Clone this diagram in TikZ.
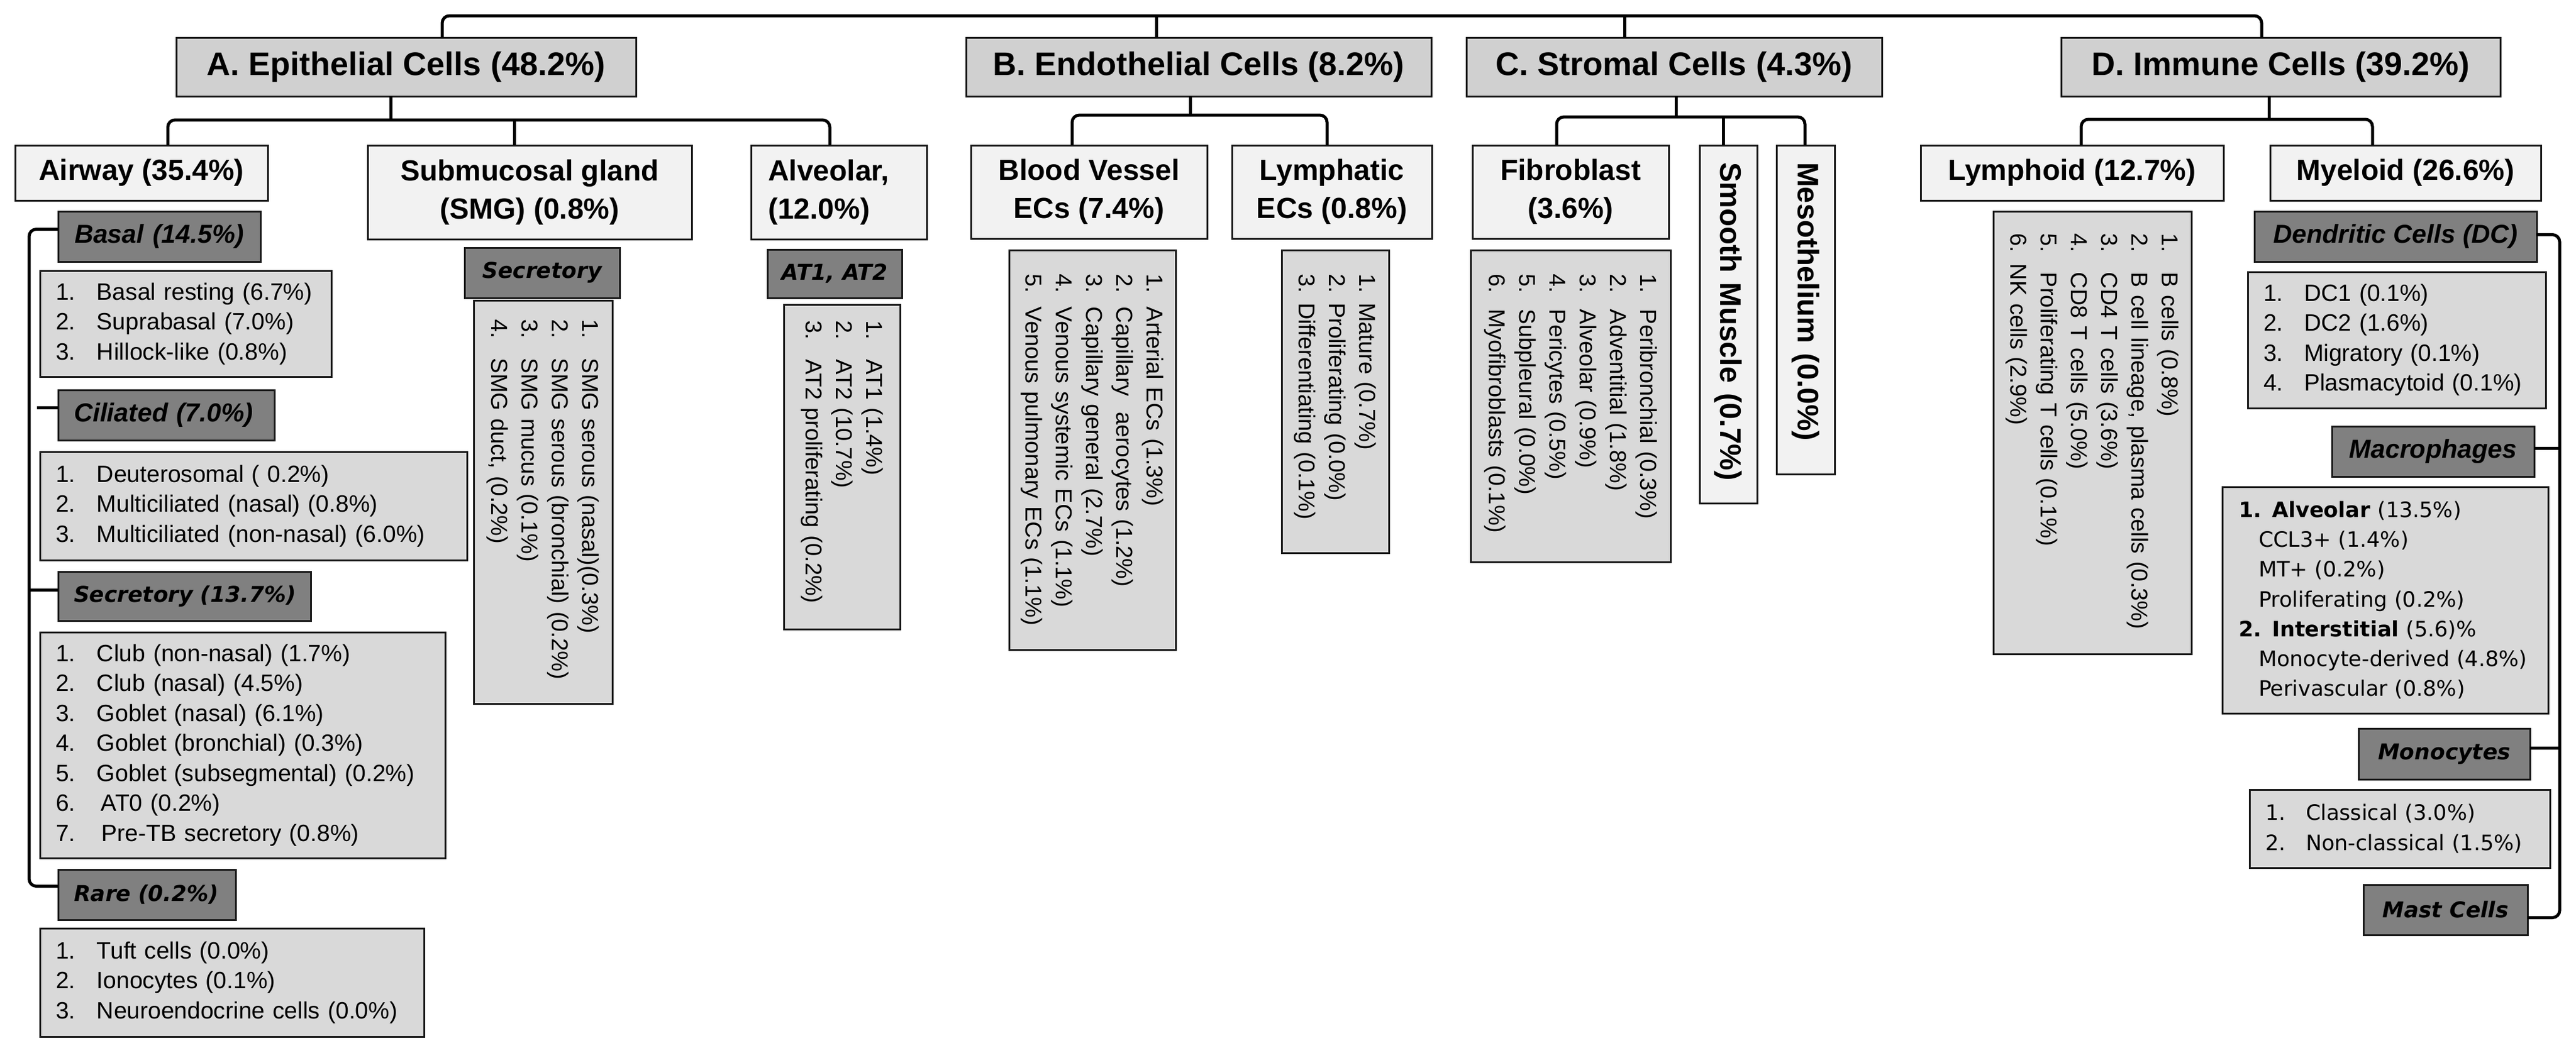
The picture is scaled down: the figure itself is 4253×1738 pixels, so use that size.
\documentclass[tikz,border=0pt]{standalone}
\usepackage{fontspec}
\setmainfont{Liberation Sans}
\newfontfamily\djfont{DejaVu Sans}
\definecolor{cA}{RGB}{208,208,208}
\definecolor{cB}{RGB}{242,242,242}
\definecolor{cS}{RGB}{128,128,128}
\definecolor{cL}{RGB}{217,217,217}
\definecolor{bd}{RGB}{25,25,25}
\newcommand\Num[2][68pt]{\makebox[#1][l]{#2}}
% centred box: name, style, x1,y1,x2,y2, text
\newcommand\Nbox[7]{%
 \pgfmathsetmacro\nbcx{(#3+#5)/2}\pgfmathsetmacro\nbcy{(#4+#6)/2}%
 \pgfmathsetmacro\nbw{#5-#3}\pgfmathsetmacro\nbh{#6-#4}%
 \node[#2, minimum width=\nbw pt, minimum height=\nbh pt] (#1) at (\nbcx,\nbcy) {#7};}
% left-aligned box: name, style, x1,y1,x2,y2, pad, text
\newcommand\Lbox[8]{%
 \pgfmathsetmacro\nbcx{(#3+#5)/2}\pgfmathsetmacro\nbcy{(#4+#6)/2}%
 \pgfmathsetmacro\nbw{#5-#3}\pgfmathsetmacro\nbh{#6-#4}%
 \pgfmathsetmacro\nbt{#5-#3-2*#7}%
 \node[#2, inner xsep=#7pt, inner ysep=0pt, text width=\nbt pt, minimum width=\nbw pt, minimum height=\nbh pt] (#1) at (\nbcx,\nbcy) {#8};}
% rotated (reading downward) left-aligned box
\newcommand\Rbox[8]{%
 \pgfmathsetmacro\nbcx{(#3+#5)/2}\pgfmathsetmacro\nbcy{(#4+#6)/2}%
 \pgfmathsetmacro\nbw{#5-#3}\pgfmathsetmacro\nbh{#6-#4}%
 \pgfmathsetmacro\nbt{#6-#4-2*#7}%
 \node[#2, rotate=-90, inner xsep=#7pt, inner ysep=0pt, text width=\nbt pt, minimum width=\nbh pt, minimum height=\nbw pt] (#1) at (\nbcx,\nbcy) {#8};}
\tikzset{
 conn/.style={draw=black, line width=5pt, rounded corners=12pt},
 base/.style={draw=bd, line width=3pt, outer sep=0pt, inner sep=0pt},
 hdrA/.style={base, fill=cA, font=\fontsize{54}{60}\selectfont\bfseries},
 hdrB/.style={base, fill=cB, align=center, font=\fontsize{48}{63}\selectfont\bfseries},
 hdrBl/.style={base, fill=cB, align=left, font=\fontsize{48}{63}\selectfont\bfseries},
 hdrR/.style={base, fill=cB, align=left, font=\fontsize{49}{56}\selectfont\bfseries},
 subN/.style={base, fill=cS, align=center, font=\fontsize{43}{50}\selectfont\bfseries\itshape},
 subW/.style={base, fill=cS, align=center, font=\djfont\fontsize{36}{44}\selectfont\bfseries\itshape},
 lst/.style={base, fill=cL, align=left, font=\fontsize{39}{49.5}\selectfont},
 lstD/.style={base, fill=cL, align=left, font=\djfont\fontsize{35}{49.2}\selectfont},
 rlst/.style={base, fill=cL, align=left, font=\fontsize{38}{50}\selectfont},
}
\begin{document}
\begin{tikzpicture}[x=1pt,y=-1pt]
\useasboundingbox (0,0) rectangle (4253,1738);
\fill[white] (0,0) rectangle (4253,1738);
% level 1
\Nbox{A}{hdrA}{291}{62}{1050}{159}{A. Epithelial Cells (48.2\%)}
\Nbox{B}{hdrA}{1595}{62}{2363}{159}{B. Endothelial Cells (8.2\%)}
\Nbox{C}{hdrA}{2421}{62}{3107}{159}{C. Stromal Cells (4.3\%)}
\Nbox{D}{hdrA}{3403}{62}{4128}{159}{D. Immune Cells (39.2\%)}
% level 2
\Nbox{airway}{hdrB}{25}{240}{442}{331}{Airway (35.4\%)}
\Nbox{smg}{hdrB}{607}{240}{1142}{395}{Submucosal gland\\(SMG) (0.8\%)}
\Lbox{alv}{hdrBl}{1240}{240}{1530}{395}{28}{Alveolar,\\(12.0\%)}
\Nbox{bv}{hdrB}{1603}{240}{1993}{394}{Blood Vessel\\ECs (7.4\%)}
\Nbox{lym}{hdrB}{2034}{240}{2364}{394}{Lymphatic\\ECs (0.8\%)}
\Nbox{fib}{hdrB}{2431}{240}{2755}{394}{Fibroblast\\(3.6\%)}
\Rbox{smooth}{hdrR}{2806}{240}{2901}{831}{28}{Smooth Muscle (0.7\%)}
\Rbox{meso}{hdrR}{2933}{240}{3029}{783}{28}{Mesothelium (0.0\%)}
\Nbox{lymphoid}{hdrB}{3171}{240}{3671}{331}{Lymphoid (12.7\%)}
\Nbox{myeloid}{hdrB}{3748}{240}{4195}{331}{Myeloid (26.6\%)}
% airway column
\Lbox{basal}{subN,align=left}{96}{349}{430}{432}{27}{Basal (14.5\%)}
\Lbox{basalL}{lst}{66}{447}{547}{622}{26}{\Num{1.}Basal resting (6.7\%)\\\Num{2.}Suprabasal (7.0\%)\\\Num{3.}Hillock-like (0.8\%)}
\Lbox{cil}{subN,align=left}{96}{644}{453}{727}{26}{Ciliated (7.0\%)}
\Lbox{cilL}{lst}{66}{746}{771}{925}{26}{\Num{1.}Deuterosomal ( 0.2\%)\\\Num{2.}Multiciliated (nasal) (0.8\%)\\\Num{3.}Multiciliated (non-nasal) (6.0\%)}
\Lbox{sec}{subW,align=left}{96}{944}{513}{1025}{26}{\mbox{Secretory (13.7\%)}}
\Lbox{secL}{lst}{66}{1044}{735}{1417}{26}{\Num{1.}Club (non-nasal) (1.7\%)\\\Num{2.}Club (nasal) (4.5\%)\\\Num{3.}Goblet (nasal) (6.1\%)\\\Num{4.}Goblet (bronchial) (0.3\%)\\\Num{5.}Goblet (subsegmental) (0.2\%)\\\Num{6.}\hspace*{7pt}AT0 (0.2\%)\\\Num{7.}\hspace*{8pt}Pre-TB secretory (0.8\%)}
\Lbox{rare}{subW,align=left}{96}{1436}{389}{1519}{26}{Rare (0.2\%)}
\Lbox{rareL}{lst}{66}{1533}{700}{1712}{26}{\Num{1.}Tuft cells (0.0\%)\\\Num{2.}Ionocytes (0.1\%)\\\Num{3.}Neuroendocrine cells (0.0\%)}
% SMG, alveolar
\Nbox{smgS}{subW}{767}{409}{1023}{492}{Secretory}
\Rbox{smgL}{rlst}{782}{496}{1011}{1162}{31}{\Num[65pt]{1.}SMG serous (nasal)(0.3\%)\\\Num[65pt]{2.}SMG serous (bronchial) (0.2\%)\\\Num[65pt]{3.}SMG mucus (0.1\%)\\\Num[65pt]{4.}SMG duct, (0.2\%)}
\Nbox{atS}{subW}{1267}{412}{1489}{492}{AT1, AT2}
\Rbox{atL}{rlst}{1294}{503}{1486}{1039}{26}{\Num[65pt]{1.}AT1 (1.4\%)\\\Num[65pt]{2.}AT2 (10.7\%)\\\Num[65pt]{3.}AT2 proliferating (0.2\%)}
% endothelial
\Rbox{bvL}{rlst}{1666}{413}{1941}{1073}{39}{\Num[55pt]{1.}Arterial ECs (1.3\%)\\\Num[55pt]{2.}Capillary\ \ aerocytes (1.2\%)\\\Num[55pt]{3.}Capillary general (2.7\%)\\\Num[55pt]{4.}Venous systemic ECs (1.1\%)\\\Num[55pt]{5.}Venous pulmonary ECs (1.1\%)}
\Rbox{lymL}{rlst}{2116}{413}{2293}{913}{39}{\Num[48pt]{1.}Mature (0.7\%)\\\Num[48pt]{2.}Proliferating (0.0\%)\\\Num[48pt]{3.}Differentiating (0.1\%)}
% stromal
\Rbox{fibL}{rlst}{2428}{413}{2758}{928}{39}{\Num[59pt]{1.}Peribronchial (0.3\%)\\\Num[59pt]{2.}Adventitial (1.8\%)\\\Num[59pt]{3.}Alveolar (0.9\%)\\\Num[59pt]{4.}Pericytes (0.5\%)\\\Num[59pt]{5.}Subpleural (0.0\%)\\\Num[59pt]{6.}Myofibroblasts (0.1\%)}
% immune
\Rbox{lymphL}{rlst}{3291}{349}{3618}{1080}{36}{\Num[65pt]{1.}B cells (0.8\%)\\\Num[65pt]{2.}B cell lineage, plasma cells (0.3\%)\\\Num[65pt]{3.}CD4 T cells (3.6\%)\\\Num[65pt]{4.}CD8 T cells (5.0\%)\\\Num[65pt]{5.}Proliferating T cells (0.1\%)\\6. NK cells (2.9\%)}
\Nbox{dc}{subN}{3722}{349}{4188}{432}{Dendritic Cells (DC)}
\Lbox{dcL}{lst}{3711}{449}{4203}{674}{26}{\Num[67pt]{1.}DC1 (0.1\%)\\\Num[67pt]{2.}DC2 (1.6\%)\\\Num[67pt]{3.}Migratory (0.1\%)\\\Num[67pt]{4.}Plasmacytoid (0.1\%)}
\Nbox{mac}{subN}{3850}{704}{4184}{787}{Macrophages}
\Lbox{macL}{lstD}{3669}{804}{4207}{1178}{27}{{\bfseries 1. Alveolar} (13.5\%)\\\hspace*{33pt}CCL3+ (1.4\%)\\\hspace*{33pt}MT+ (0.2\%)\\\hspace*{33pt}Proliferating (0.2\%)\\{\bfseries 2. Interstitial} (5.6)\%\\\hspace*{33pt}Monocyte-derived (4.8\%)\\\hspace*{33pt}Perivascular (0.8\%)}
\Nbox{mono}{subW}{3894}{1203}{4177}{1287}{Monocytes}
\Lbox{monoL}{lstD}{3714}{1304}{4210}{1433}{26}{\Num[67pt]{1.}Classical (3.0\%)\\\Num[67pt]{2.}Non-classical (1.5\%)}
\Nbox{mast}{subW}{3902}{1461}{4173}{1544}{Mast Cells}
% ---- connectors ----
\coordinate (tL) at (730,26); \coordinate (tR) at (3734,26);
\coordinate (tB) at (1909,26); \coordinate (tC) at (2682,26);
\draw[conn] (A.north -| tL) -- (tL) -- (tR) -- (D.north -| tR);
\draw[conn] (tB) -- (B.north -| tB);
\draw[conn] (tC) -- (C.north -| tC);
% A
\coordinate (aL) at (277,198); \coordinate (aR) at (1370,198);
\coordinate (aS) at (645,198); \coordinate (aM) at (849,198);
\draw[conn] (airway.north -| aL) -- (aL) -- (aR) -- (alv.north -| aR);
\draw[conn] (A.south -| aS) -- (aS);
\draw[conn] (aM) -- (smg.north -| aM);
% B
\coordinate (bL) at (1770,190); \coordinate (bR) at (2191,190); \coordinate (bS) at (1965,190);
\draw[conn] (bv.north -| bL) -- (bL) -- (bR) -- (lym.north -| bR);
\draw[conn] (B.south -| bS) -- (bS);
% C
\coordinate (cL) at (2570,193); \coordinate (cR) at (2980,193);
\coordinate (cS) at (2767,193); \coordinate (cM) at (2845,193);
\draw[conn] (fib.north -| cL) -- (cL) -- (cR) -- (meso.west -| cR);
\draw[conn] (C.south -| cS) -- (cS);
\draw[conn] (cM) -- (smooth.west -| cM);
% D
\coordinate (dL) at (3436,197); \coordinate (dR) at (3917,197); \coordinate (dS) at (3746,197);
\draw[conn] (lymphoid.north -| dL) -- (dL) -- (dR) -- (myeloid.north -| dR);
\draw[conn] (D.south -| dS) -- (dS);
% airway bracket
\coordinate (brA) at (48,0); \coordinate (brA2) at (61,0);
\coordinate (bz) at ([yshift=12pt]basal.west);
\coordinate (cz) at ([yshift=12pt]cil.west);
\coordinate (sz) at ([yshift=10pt]sec.west);
\coordinate (rz) at ([yshift=14pt]rare.west);
\draw[conn] (bz) -- (bz -| brA) -- (rz -| brA) -- (rz);
\draw[conn] (cz -| brA2) -- (cz);
\draw[conn] (sz -| brA) -- (sz);
% myeloid bracket
\coordinate (brM) at (4226,0);
\coordinate (dz) at ([yshift=3pt]dc.east);
\coordinate (macz) at ([yshift=5pt]mac.east);
\coordinate (monz) at ([yshift=10pt]mono.east);
\coordinate (mz) at ([yshift=-13pt]mast.east);
\draw[conn] (dz) -- (dz -| brM) -- (mz -| brM) -- (mz);
\draw[conn] (macz) -- (macz -| brM);
\draw[conn] (monz) -- (monz -| brM);
\end{tikzpicture}
\end{document}
